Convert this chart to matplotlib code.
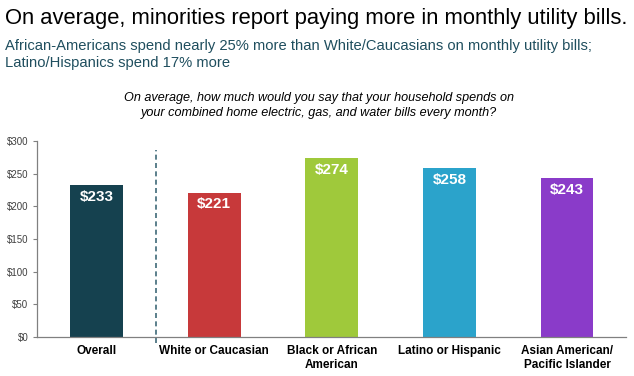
import matplotlib
matplotlib.use("Agg")
import matplotlib.pyplot as plt

plt.rcParams["font.family"] = ["Liberation Sans", "DejaVu Sans"]

groups = ["Overall", "White or Caucasian", "Black or African\nAmerican",
          "Latino or Hispanic", "Asian American/\nPacific Islander"]
spend = [233, 221, 274, 258, 243]
colors = ["#15414F", "#C7393A", "#9FC93B", "#2BA3CB", "#8A3BC9"]
yticks = [0, 50, 100, 150, 200, 250, 300]

fig = plt.figure(figsize=(6.34, 3.76), dpi=100)
ax = fig.add_axes([0.058, 0.104, 0.929, 0.521])

x = range(len(groups))
bars = ax.bar(x, spend, width=0.45, color=colors, edgecolor="none")

for xi, v in zip(x, spend):
    ax.text(xi, v - 18, f"${v}", ha="center", va="center",
            color="white", fontsize=11, fontweight="bold")

ax.set_xlim(-0.51, 4.5)
ax.set_ylim(0, 300)
ax.set_yticks(yticks)
ax.set_yticklabels([f"${t}" for t in yticks], fontsize=7, color="#404040")
ax.set_xticks(list(x))
ax.set_xticklabels(groups, fontsize=8.5, fontweight="bold", linespacing=1.2)
ax.tick_params(axis="x", length=0, pad=6)
ax.tick_params(axis="y", length=3, color="#808080", pad=3)

for s in ["top", "right"]:
    ax.spines[s].set_visible(False)
for s in ["left", "bottom"]:
    ax.spines[s].set_color("#808080")
    ax.spines[s].set_linewidth(0.9)

# divider between overall and groups
ax.plot([0.5, 0.5], [-10, 286], ls=(0, (3, 2)), color="#3E6A78", lw=1.2,
        clip_on=False)

fig.text(0.008, 0.952, "On average, minorities report paying more in monthly utility bills.",
         fontsize=15.8, color="black", va="center")
fig.text(0.008, 0.878, "African-Americans spend nearly 25% more than White/Caucasians on monthly utility bills;",
         fontsize=10.6, color="#1F4E5E", va="center")
fig.text(0.008, 0.833, "Latino/Hispanics spend 17% more",
         fontsize=10.6, color="#1F4E5E", va="center")
fig.text(0.503, 0.72, "On average, how much would you say that your household spends on\nyour combined home electric, gas, and water bills every month?",
         fontsize=9.1, style="italic", ha="center", va="center", linespacing=1.3)

fig.savefig("out.png", dpi=100)
